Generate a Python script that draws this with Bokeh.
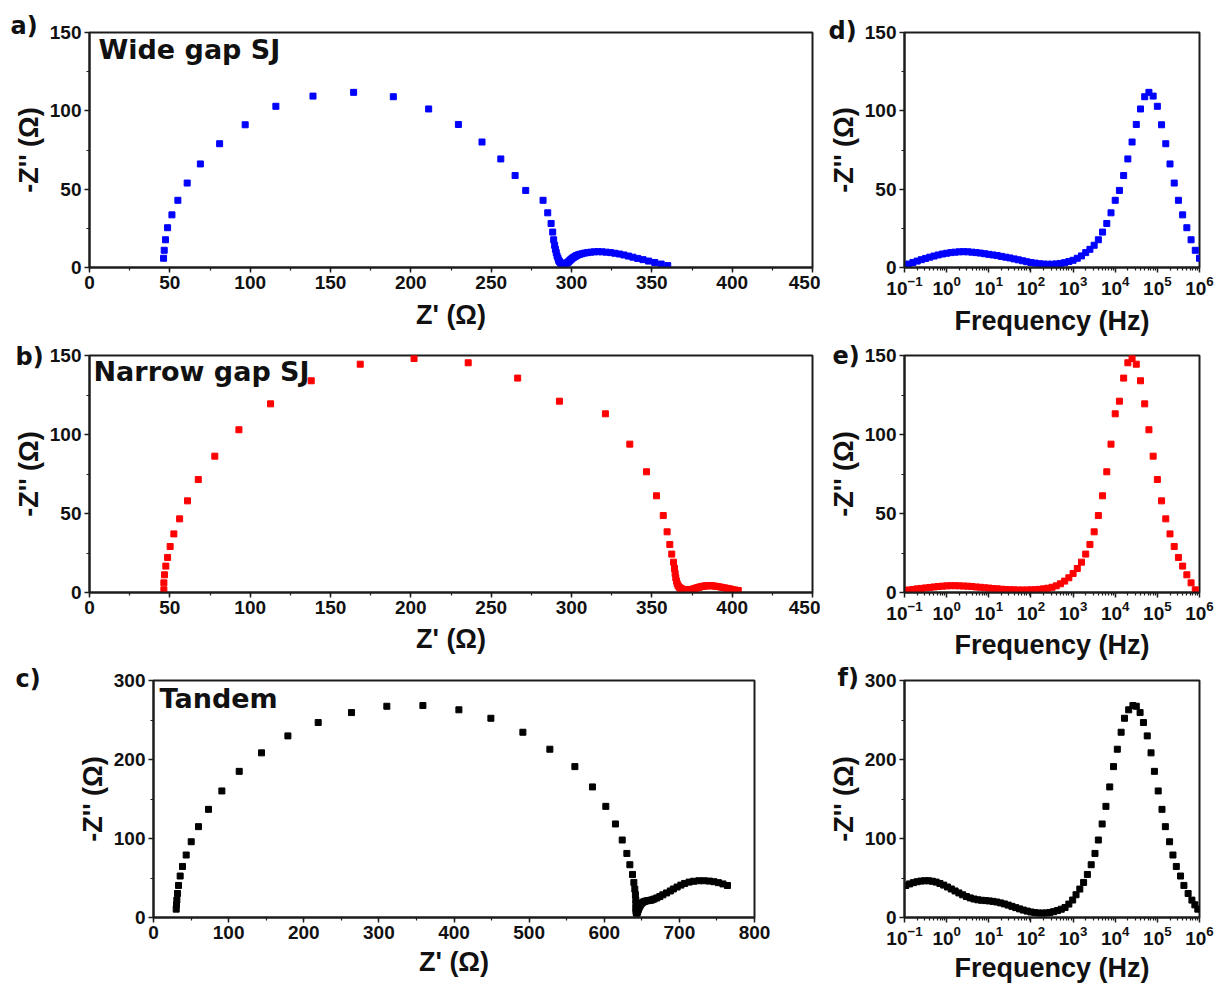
import math
from bokeh.plotting import figure
from bokeh.models import Label, Title, SingleIntervalTicker, FixedTicker, LogTickFormatter, Range1d
from bokeh.layouts import column, row
from bokeh.embed import file_html
from bokeh.resources import INLINE

# ---------------- data ----------------
# log10(frequency / Hz) of the single-junction sweeps (10 points per decade)
LOGF_SJ = [6.0, 5.9, 5.8, 5.7, 5.6, 5.5, 5.4, 5.3, 5.2, 5.1,
           5.0, 4.9, 4.8, 4.7, 4.6, 4.5, 4.4, 4.3, 4.2, 4.1,
           4.0, 3.9, 3.8, 3.7, 3.6, 3.5, 3.4, 3.3, 3.2, 3.1,
           3.0, 2.9, 2.8, 2.7, 2.6, 2.5, 2.4, 2.3, 2.2, 2.1,
           2.0, 1.9, 1.8, 1.7, 1.6, 1.5, 1.4, 1.3, 1.2, 1.1,
           1.0, 0.9, 0.8, 0.7, 0.6, 0.5, 0.4, 0.3, 0.2, 0.1,
           0.0, -0.1, -0.2, -0.3, -0.4, -0.5, -0.6, -0.7, -0.8, -0.9,
           -1.0]

# Wide gap single junction (blue)
WIDE_ZIM = [5.9, 11.0, 17.7, 25.4, 33.6, 42.9, 53.9, 66.1, 79.0, 91.1,
            102.9, 109.4, 111.8, 109.0, 101.2, 91.3, 80.1, 69.3, 58.7, 49.2,
            42.9, 34.9, 28.1, 22.6, 17.7, 14.2, 11.6, 9.5, 7.4, 5.9,
            4.6, 3.8, 3.1, 2.6, 2.3, 2.1, 2.1, 2.2, 2.4, 2.8,
            3.2, 3.7, 4.3, 4.9, 5.5, 6.1, 6.6, 7.1, 7.6, 8.0,
            8.4, 8.8, 9.2, 9.5, 9.8, 10.0, 10.1, 10.0, 9.8, 9.5,
            9.1, 8.6, 8.0, 7.3, 6.6, 5.8, 5.0, 4.1, 3.2, 2.2,
            1.2]
WIDE_ZRE = [46.1, 46.5, 47.3, 48.6, 51.3, 55.0, 60.8, 69.0, 81.0, 96.9,
            116.0, 139.1, 164.4, 189.1, 211.1, 229.6, 244.3, 256.0, 264.9, 271.5,
            282.3, 285.2, 287.3, 288.3, 288.9, 289.5, 290.0, 290.5, 291.0, 291.6,
            292.0, 292.5, 293.0, 293.5, 294.0, 294.6, 295.2, 295.8, 296.4, 297.0,
            297.6, 298.2, 298.8, 299.4, 300.1, 300.8, 301.5, 302.3, 303.1, 304.0,
            305.2, 306.6, 308.2, 310.0, 312.0, 314.2, 316.5, 319.0, 321.6, 324.3,
            327.0, 329.8, 332.6, 335.4, 338.2, 341.2, 344.5, 348.0, 351.8, 355.8,
            359.9]

# Narrow gap single junction (red) - starts one step below 1 MHz
NARROW_LOGF = LOGF_SJ[1:]
NARROW_ZIM = [1.7, 6.1, 11.2, 16.7, 22.2, 29.1, 37.1, 46.6, 58.0, 71.5,
              86.3, 103.0, 119.4, 134.0, 144.5, 148.1, 145.4, 135.7, 121.1, 113.1,
              93.9, 76.4, 61.2, 48.7, 38.4, 30.4, 24.3, 19.2, 15.2, 12.0,
              9.3, 7.2, 5.5, 4.2, 3.3, 2.7, 2.3, 2.0, 1.8, 1.7,
              1.6, 1.6, 1.6, 1.7, 1.8, 1.9, 2.1, 2.3, 2.5, 2.8,
              3.0, 3.3, 3.5, 3.8, 4.0, 4.1, 4.2, 4.3, 4.3, 4.2,
              4.0, 3.8, 3.5, 3.2, 2.9, 2.6, 2.3, 1.9, 1.6, 1.3]
NARROW_ZRE = [46.3, 46.3, 46.7, 47.5, 48.6, 50.2, 52.5, 56.1, 61.0, 67.7,
              78.0, 93.0, 112.7, 138.0, 168.5, 202.0, 235.7, 266.5, 292.5, 321.1,
              336.3, 346.7, 352.9, 357.1, 359.5, 361.2, 362.4, 363.5, 364.1, 364.5,
              364.9, 365.4, 365.8, 366.4, 367.1, 367.8, 368.5, 369.2, 369.9, 370.6,
              371.3, 372.0, 372.7, 373.4, 374.1, 374.8, 375.5, 376.2, 376.9, 377.6,
              378.4, 379.2, 380.1, 381.0, 382.0, 383.0, 384.1, 385.3, 386.6, 388.0,
              389.5, 391.0, 392.5, 394.0, 395.5, 397.0, 398.5, 400.0, 401.8, 403.8]

# Tandem (black)
TANDEM_LOGF = [5.96, 5.89, 5.82, 5.73, 5.63, 5.55, 5.45, 5.37, 5.29, 5.19,
               5.11, 5.02, 4.93, 4.85, 4.76, 4.67, 4.59, 4.50, 4.42, 4.32,
               4.22, 4.14, 4.05, 3.96, 3.87, 3.78, 3.69, 3.60, 3.52, 3.43,
               3.34, 3.25, 3.16, 3.07, 2.99, 2.90, 2.81, 2.72, 2.63, 2.54,
               2.45, 2.36, 2.27, 2.18, 2.09, 2.00, 1.91, 1.82, 1.73, 1.64,
               1.55, 1.46, 1.37, 1.28, 1.19, 1.10, 1.01, 0.92, 0.83, 0.74,
               0.65, 0.56, 0.47, 0.38, 0.29, 0.20, 0.11, 0.02, -0.07, -0.16,
               -0.25, -0.34, -0.43, -0.52, -0.61, -0.70, -0.79, -0.88, -0.97]
TANDEM_ZIM = [10.6, 16.0, 22.0, 30.4, 40.6, 52.5, 64.6, 79.1, 95.9, 115.0,
              136.9, 160.2, 185.0, 208.4, 229.9, 246.8, 259.4, 267.4, 268.3, 262.9,
              252.2, 234.5, 213.0, 191.0, 165.3, 140.7, 118.4, 98.1, 81.1, 66.8,
              54.5, 44.4, 36.0, 28.8, 22.1, 17.0, 12.7, 10.5, 8.8, 7.4,
              6.4, 5.8, 5.6, 5.7, 6.2, 7.0, 8.1, 9.4, 10.9, 12.5,
              14.1, 15.7, 17.2, 18.5, 19.6, 20.4, 21.0, 21.4, 21.8, 22.4,
              23.4, 24.8, 26.5, 28.7, 31.1, 33.6, 36.1, 38.6, 41.0, 43.1,
              44.8, 45.9, 46.5, 46.5, 46.1, 45.3, 44.1, 42.5, 40.5]
TANDEM_ZRE = [30.2, 30.6, 31.1, 32.0, 33.3, 35.5, 38.6, 43.5, 50.2, 59.9,
              73.2, 91.0, 114.1, 143.8, 178.9, 219.2, 263.6, 310.6, 358.6, 406.5,
              449.1, 491.7, 527.6, 560.9, 584.3, 602.1, 614.9, 623.9, 630.1, 634.1,
              637.6, 639.4, 640.7, 641.5, 642.0, 642.2, 642.3, 642.4, 642.5, 642.6,
              642.7, 642.9, 643.1, 643.4, 643.7, 644.1, 644.5, 645.0, 645.6, 646.3,
              647.1, 648.0, 649.1, 650.4, 652.0, 653.8, 656.0, 658.6, 661.5, 663.8,
              666.5, 670.0, 674.0, 678.0, 683.0, 688.0, 692.0, 697.0, 702.0, 707.0,
              713.0, 719.0, 726.0, 733.0, 740.0, 746.0, 752.0, 758.0, 764.0]

PANEL_LETTERS = ["a)", "b)", "c)", "d)", "e)", "f)"]
PANEL_TITLES = ["Wide gap SJ", "Narrow gap SJ", "Tandem"]
X_LABEL_NYQ = "Z' (\u03a9)"
X_LABEL_BODE = "Frequency (Hz)"
Y_LABEL = "-Z'' (\u03a9)"
COLORS = ["#0000ff", "#ff0000", "#000000"]
DECADES = [-1, 0, 1, 2, 3, 4, 5, 6]

# ---------------- styling helpers ----------------
AX = "#1c1c1c"
SANS = "Liberation Sans"


def make_fig(width, height, left, right, top, bottom, xr, yr, xstand, log=False):
    p = figure(width=width, height=height, x_range=Range1d(*xr), y_range=Range1d(*yr),
               x_axis_type="log" if log else "linear",
               output_backend="svg", toolbar_location=None,
               min_border_left=left, min_border_right=right,
               min_border_top=top, min_border_bottom=bottom)
    p.grid.visible = False
    p.outline_line_color = AX
    p.outline_line_width = 2
    p.outline_line_alpha = 1.0
    p.background_fill_color = "white"
    p.border_fill_color = "white"
    for ax in (p.xaxis[0], p.yaxis[0]):
        ax.axis_line_color = AX
        ax.axis_line_width = 2
        ax.major_tick_in = 0
        ax.major_tick_out = 5
        ax.minor_tick_in = 0
        ax.minor_tick_out = 3
        ax.major_tick_line_color = AX
        ax.minor_tick_line_color = AX
        ax.major_tick_line_width = 1.5
        ax.minor_tick_line_width = 1.2
        ax.major_label_text_font = SANS
        ax.major_label_text_font_style = "bold"
        ax.major_label_text_font_size = "19px"
        ax.major_label_text_color = "#111111"
        ax.major_label_standoff = 3
        ax.axis_label_text_font = SANS
        ax.axis_label_text_font_style = "bold"
        ax.axis_label_text_font_size = "27px"
        ax.axis_label_text_color = "#111111"
    p.xaxis[0].axis_label_standoff = xstand
    p.yaxis[0].axis_label_standoff = 3
    return p


def letter(p, text, dx, shift):
    # panel letter drawn as a left-aligned title, pushed down by `shift` px
    p.add_layout(Title(text=text, align="left", offset=dx, standoff=-2 * shift,
                       vertical_align="bottom",
                       text_font="DejaVu Sans", text_font_style="bold",
                       text_font_size="24px", text_color="#111111"), "above")


def title(p, x, y, text, dx, dy):
    p.add_layout(Label(x=x, y=y, x_offset=dx, y_offset=dy, text=text,
                       text_font="DejaVu Sans", text_font_style="bold",
                       text_font_size="27px", text_color="#111111",
                       text_align="left", text_baseline="top"))


def nyquist(width, height, left, right, top, bottom, xstand, xmax, ymax, xstep, ystep,
            zre, zim, color, ltr, ldx, lshift, ttl, tdx, tdy):
    p = make_fig(width, height, left, right, top, bottom, (0, xmax), (0, ymax), xstand)
    p.xaxis[0].ticker = SingleIntervalTicker(interval=xstep, num_minor_ticks=2)
    p.yaxis[0].ticker = SingleIntervalTicker(interval=ystep, num_minor_ticks=2)
    p.xaxis[0].axis_label = X_LABEL_NYQ
    p.yaxis[0].axis_label = Y_LABEL
    p.scatter(zre, zim, marker="square", size=6, fill_color=color, line_color=color)
    letter(p, ltr, ldx, lshift)
    title(p, 0, ymax, ttl, tdx, tdy)
    return p


def bode(width, height, left, right, top, bottom, xstand, ymax, ystep, logf, zim, color,
         ltr, ldx, lshift):
    p = make_fig(width, height, left, right, top, bottom, (0.1, 1e6), (0, ymax), xstand, log=True)
    majors = [10.0 ** d for d in DECADES]
    minors = [m * 10.0 ** d for d in DECADES[:-1] for m in range(2, 10)]
    p.xaxis[0].ticker = FixedTicker(ticks=majors, minor_ticks=minors)
    p.xaxis[0].formatter = LogTickFormatter()
    p.yaxis[0].ticker = SingleIntervalTicker(interval=ystep, num_minor_ticks=2)
    p.xaxis[0].axis_label = X_LABEL_BODE
    p.yaxis[0].axis_label = Y_LABEL
    freq = [10.0 ** v for v in logf]
    p.scatter(freq, zim, marker="square", size=6, fill_color=color, line_color=color)
    letter(p, ltr, ldx, lshift)
    return p


# Row 1 : 0..340, Row 2 : 340..662, Row 3 : 662..985
pa = nyquist(820, 340, 89, 8, 32, 71, 8, 450, 150, 50, 50, WIDE_ZRE, WIDE_ZIM, COLORS[0],
             PANEL_LETTERS[0], -79, 7, PANEL_TITLES[0], 9, -1)
pd = bode(401, 340, 84, 22, 30, 73, 8, 150, 50, LOGF_SJ, WIDE_ZIM, COLORS[0],
          PANEL_LETTERS[3], -76, 12)

pb = nyquist(820, 322, 89, 8, 15, 70, 7, 450, 150, 50, 50, NARROW_ZRE, NARROW_ZIM, COLORS[1],
             PANEL_LETTERS[1], -74, 15, PANEL_TITLES[1], 4, 0)
pe = bode(401, 322, 84, 22, 15, 70, 7, 150, 50, NARROW_LOGF, NARROW_ZIM, COLORS[1],
          PANEL_LETTERS[4], -72, 14)

pc = nyquist(820, 323, 153, 66, 18, 68, 5, 800, 300, 100, 100, TANDEM_ZRE, TANDEM_ZIM, COLORS[2],
             PANEL_LETTERS[2], -138, 12, PANEL_TITLES[2], 6, -2)
pf = bode(401, 323, 84, 22, 18, 68, 5, 300, 100, TANDEM_LOGF, TANDEM_ZIM, COLORS[2],
          PANEL_LETTERS[5], -67, 11)

layout = column(row(pa, pd, spacing=0), row(pb, pe, spacing=0), row(pc, pf, spacing=0), spacing=0)

html = file_html(layout, INLINE, title="EIS")
with open("out.html", "w") as fh:
    fh.write(html)
